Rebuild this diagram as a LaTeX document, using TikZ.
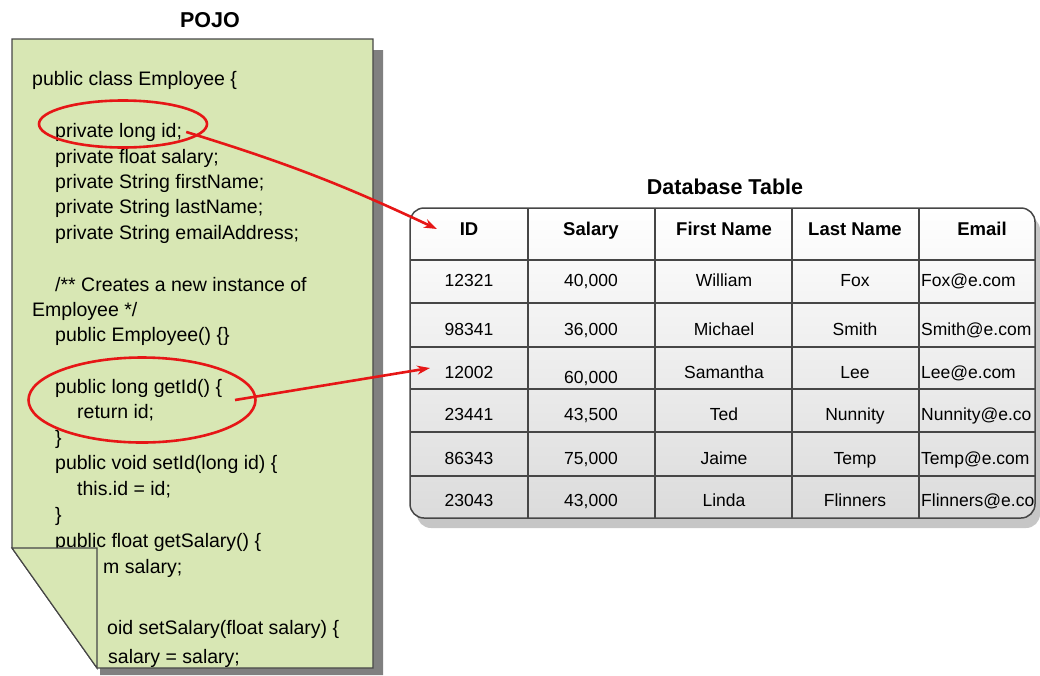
\documentclass[tikz,border=0pt]{standalone}
\usepackage{fontspec}
\setmainfont{Liberation Sans}
\usetikzlibrary{shapes.geometric,arrows.meta,positioning}

\definecolor{pagegreen}{RGB}{216,231,180}
\definecolor{ringred}{RGB}{230,22,22}
\definecolor{edgegray}{RGB}{70,70,70}
\definecolor{shadowgray}{RGB}{128,128,128}

\begin{document}
\begin{tikzpicture}[
    x=1pt, y=-1pt,
    codeline/.style={anchor=base west, inner sep=0pt, font=\fontsize{19.5}{23}\selectfont},
    ring/.style={ellipse, draw=ringred, line width=2.6pt, inner sep=0pt},
    link/.style={-{Stealth[length=13pt,width=9pt]}, draw=ringred, line width=2.6pt},
    cell/.style={anchor=base, inner sep=0pt, font=\fontsize{17.5}{20}\selectfont},
    headcell/.style={anchor=base, inner sep=0pt, font=\fontsize{18.5}{20}\selectfont\bfseries},
    title/.style={font=\fontsize{21.5}{24}\selectfont\bfseries}
]
\useasboundingbox (0,0) rectangle (1040,675);

% POJO page
\node[title] (pojo) at (210,20) {POJO};
\fill[shadowgray] (22,50) -- (383,50) -- (383,675) -- (100,675) -- (100,560) -- (22,560) -- cycle;
\filldraw[fill=pagegreen, draw=edgegray, line width=1.2pt]
    (12,39) -- (373,39) -- (373,668) -- (97,668) -- (12,548) -- cycle;

% Source code
\node[codeline] (code1) at (32,85) {public class Employee \{};
\node[codeline] (code2) at (55,137) {private long id;};
\node[codeline] (code3) at (55,163) {private float salary;};
\node[codeline] (code4) at (55,188) {private String firstName;};
\node[codeline] (code5) at (55,213) {private String lastName;};
\node[codeline] (code6) at (55,239) {private String emailAddress;};
\node[codeline] (code7) at (55,291) {/** Creates a new instance of};
\node[codeline] (code8) at (32,316) {Employee */};
\node[codeline] (code9) at (55,341) {public Employee() \{\}};
\node[codeline] (code10) at (55,393) {public long getId() \{};
\node[codeline] (code11) at (77,418) {return id;};
\node[codeline] (code12) at (55,444) {\}};
\node[codeline] (code13) at (55,469) {public void setId(long id) \{};
\node[codeline] (code14) at (77,495) {this.id = id;};
\node[codeline] (code15) at (55,521) {\}};
\node[codeline] (code16) at (55,547) {public float getSalary() \{};
\node[codeline] (code17) at (103,573) {m salary;};
\node[codeline] (code18) at (107,634) {oid setSalary(float salary) \{};
\node[codeline] (code19) at (108,663) {salary = salary;};

% Folded corner
\filldraw[fill=pagegreen, draw=edgegray, line width=1.2pt] (12,548) -- (97,548) -- (97,668) -- cycle;

% Highlight rings
\node[ring, minimum width=168, minimum height=47] (idring) at (123,124) {};
\node[ring, minimum width=227, minimum height=85] (getidring) at (142,400) {};

% Database table
\node[title] (dbtitle) at (725,187) {Database Table};
\fill[gray!45, rounded corners=14] (417,216) rectangle (1040,528);
\shade[top color=white, bottom color=gray!28, rounded corners=14] (410,208) rectangle (1035,518);
\foreach \y in {260,303,347,389,432,476}
    \draw[edgegray, line width=1.2pt] (410,\y) -- (1035,\y);
\foreach \x in {528,655,792,919}
    \draw[edgegray, line width=1.2pt] (\x,208) -- (\x,518);
\draw[edgegray, line width=1.5pt, rounded corners=14] (410,208) rectangle (1035,518);

% Header
\node[headcell] (hid) at (469,235) {ID};
\node[headcell] (hsal) at (591,235) {Salary};
\node[headcell] (hfirst) at (724,235) {First Name};
\node[headcell] (hlast) at (855,235) {Last Name};
\node[headcell] (hmail) at (982,235) {Email};

% Rows
\begin{scope}
\clip[rounded corners=14] (410,208) rectangle (1035,518);
\foreach \r/\y/\dy/\id/\sal/\first/\last/\mail in {
    1/286/0/12321/{40,000}/William/Fox/Fox@e.com,
    2/335/0/98341/{36,000}/Michael/Smith/Smith@e.com,
    3/378/5/12002/{60,000}/Samantha/Lee/Lee@e.com,
    4/420/0/23441/{43,500}/Ted/Nunnity/Nunnity@e.co,
    5/464/0/86343/{75,000}/Jaime/Temp/Temp@e.com,
    6/506/0/23043/{43,000}/Linda/Flinners/Flinners@e.co}
{
    \node[cell] (id\r) at (469,\y) {\id};
    \node[cell] (sal\r) at (591,\y+\dy) {\sal};
    \node[cell] (first\r) at (724,\y) {\first};
    \node[cell] (last\r) at (855,\y) {\last};
    \node[cell, anchor=base west] (mail\r) at (921,\y) {\mail};
}
\end{scope}

% Links
\coordinate (idhead) at (437,229);
\coordinate (getidtail) at (235,400);
\coordinate (rowhead) at (430,368);
\draw[link] ([xshift=4pt]code2.east) to[bend left=4] (idhead);
\draw[link] (getidtail) -- (rowhead);

\end{tikzpicture}
\end{document}
